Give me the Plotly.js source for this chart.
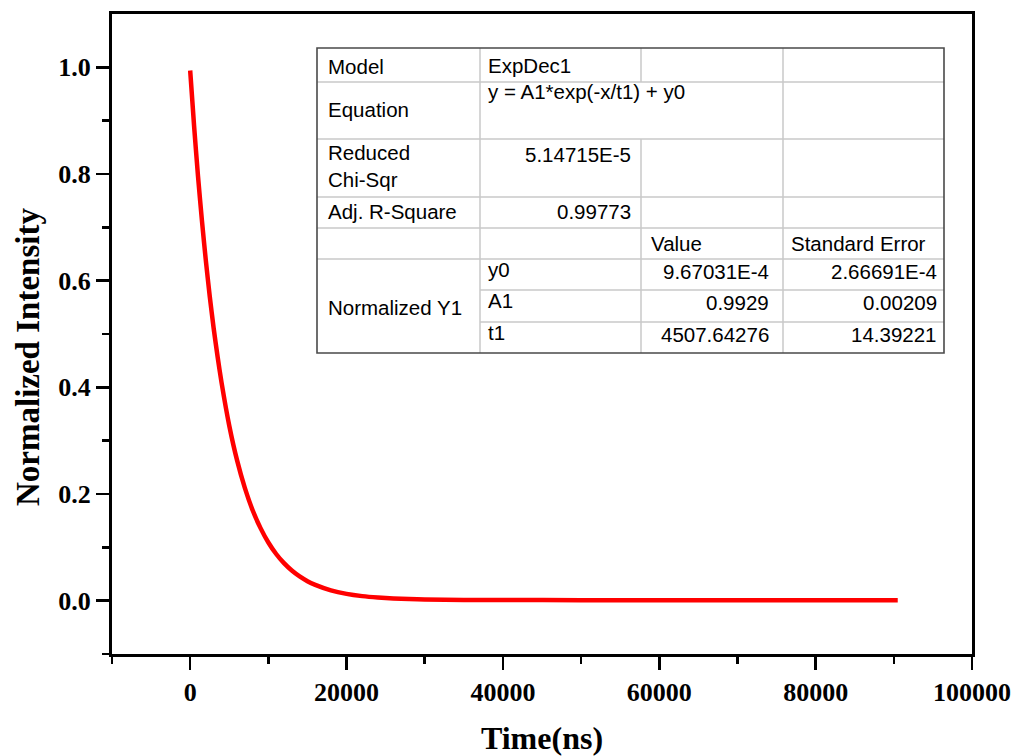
<!DOCTYPE html>
<html>
<head>
<meta charset="utf-8">
<script src="https://cdn.plot.ly/plotly-3.0.1.min.js"></script>
<style>
html,body{margin:0;padding:0;background:#fff;}
#chart{width:1016px;height:756px;}
</style>
</head>
<body>
<div id="chart"></div>
<script>
// ---- data ----
const timeNs = [0, 500, 1000, 1500, 2000, 2500, 3000, 3500, 4000, 5000, 6000, 7000, 8000, 9000, 10000,
  11000, 12000, 13000, 14000, 15000, 16000, 18000, 20000, 22000, 24000, 26000, 28000, 30000,
  35000, 40000, 50000, 60000, 70000, 80000, 90500];
const intensity = [0.994, 0.890, 0.796, 0.713, 0.638, 0.571, 0.511, 0.458, 0.410, 0.328, 0.263, 0.211, 0.169, 0.136, 0.109,
  0.0875, 0.0703, 0.0565, 0.0454, 0.0366, 0.0295, 0.0193, 0.0127, 0.0085, 0.0058, 0.0041, 0.0030, 0.0022,
  0.0014, 0.0011, 0.0010, 0.00097, 0.00097, 0.00097, 0.00097];

const xTickVals = [0, 20000, 40000, 60000, 80000, 100000];
const xTickText = ["0", "20000", "40000", "60000", "80000", "100000"];
const xMinorVals = [-10000, 10000, 30000, 50000, 70000, 90000];
const yTickVals = [0, 0.2, 0.4, 0.6, 0.8, 1.0];
const yTickText = ["0.0", "0.2", "0.4", "0.6", "0.8", "1.0"];
const yMinorVals = [-0.1, 0.1, 0.3, 0.5, 0.7, 0.9];
const xTitle = "Time(ns)";
const yTitle = "Normalized Intensity";

// fit report table
const reportLabels = ["Model", "Equation", "Reduced<br>Chi-Sqr", "Adj. R-Square"];
const reportValues = ["ExpDec1", "y = A1*exp(-x/t1) + y0", "5.14715E-5", "0.99773"];
const paramGroup = "Normalized Y1";
const paramHeader = ["Value", "Standard Error"];
const paramNames = ["y0", "A1", "t1"];
const paramValues = ["9.67031E-4", "0.9929", "4507.64276"];
const paramErrors = ["2.66691E-4", "0.00209", "14.39221"];

// ---- layout helpers (pixel -> paper) ----
const L = 112, R = 972, T = 14, B = 654;
const W = 1016, H = 756;
const px = x => (x - L) / (R - L);
const py = y => (B - y) / (B - T);

const shapes = [];
const ann = [];
const grid = '#c8c8c8';
function hline(x0, x1, y, color, w) {
  shapes.push({type:'line', xref:'paper', yref:'paper', x0:px(x0), x1:px(x1), y0:py(y), y1:py(y),
    line:{color:color, width:w}});
}
function vline(x, y0, y1, color, w) {
  shapes.push({type:'line', xref:'paper', yref:'paper', x0:px(x), x1:px(x), y0:py(y0), y1:py(y1),
    line:{color:color, width:w}});
}
const tf = {family:'Liberation Sans, Arial, sans-serif', size:20.5, color:'#000'};
function text(t, x, y, anchor) {
  ann.push({text:t, xref:'paper', yref:'paper', x:px(x), y:py(y), xanchor:anchor, yanchor:'middle',
    showarrow:false, font:tf, align:anchor === 'right' ? 'right' : 'left'});
}

// table geometry
const cx = [317, 480, 641, 783, 944];
const ry = [48, 82, 139, 197, 228, 259, 290, 322, 353];
shapes.push({type:'rect', xref:'paper', yref:'paper', x0:px(cx[0]), x1:px(cx[4]), y0:py(ry[0]), y1:py(ry[8]),
  fillcolor:'#fff', line:{width:0}, layer:'above'});
[1,2,3,4,5].forEach(i => hline(cx[0], cx[4], ry[i], grid, 1.5));
[6,7].forEach(i => hline(cx[1], cx[4], ry[i], grid, 1.5));
vline(cx[1], ry[0], ry[8], grid, 1.5);
vline(cx[2], ry[0], ry[1], grid, 1.5);
vline(cx[2], ry[2], ry[8], grid, 1.5);
vline(cx[3], ry[0], ry[8], grid, 1.5);
shapes.push({type:'rect', xref:'paper', yref:'paper', x0:px(cx[0]), x1:px(cx[4]), y0:py(ry[0]), y1:py(ry[8]),
  line:{color:'#4a4a4a', width:1.6}});

// table texts
text(reportLabels[0], 326, 66, 'left');
text(reportValues[0], 486, 65, 'left');
text(reportLabels[1], 326, 109, 'left');
text(reportValues[1], 486, 92, 'left');
text(reportLabels[2], 326, 166, 'left');
text(reportValues[2], 633, 154, 'right');
text(reportLabels[3], 326, 212, 'left');
text(reportValues[3], 633, 212, 'right');
text(paramHeader[0], 649, 243, 'left');
text(paramHeader[1], 789, 243, 'left');
text(paramGroup, 326, 307, 'left');
const rowMid = [271, 302, 334];
paramNames.forEach((n, i) => {
  text(n, 486, rowMid[i] - 2, 'left');
  text(paramValues[i], 771, rowMid[i], 'right');
  text(paramErrors[i], 939, rowMid[i], 'right');
});

const serif = 'Liberation Serif, Times New Roman, serif';
const tickFont = {family:serif, size:26, color:'#000', weight:'bold'};
const titleFont = {family:serif, size:32, color:'#000', weight:'bold'};

// y-axis title placed to match the reference position
ann.push({text:yTitle, xref:'paper', yref:'paper', x:px(28), y:py(357), xanchor:'center', yanchor:'middle',
  textangle:-90, showarrow:false, font:{family:serif, size:33, color:'#000', weight:'bold'}});

const trace = {
  x: timeNs, y: intensity, type:'scatter', mode:'lines',
  line:{color:'#ff0000', width:4.5, shape:'spline', smoothing:0.6},
  hoverinfo:'x+y', showlegend:false
};

const layout = {
  width: W, height: H,
  margin:{l:L, r:W-R, t:T, b:H-B, pad:0},
  paper_bgcolor:'#fff', plot_bgcolor:'#fff',
  showlegend:false,
  xaxis:{
    range:[-10000, 100000], autorange:false,
    tickmode:'array', tickvals:xTickVals, ticktext:xTickText,
    ticks:'outside', ticklen:13, tickwidth:2.5, tickcolor:'#000',
    minor:{tickmode:'array', tickvals:xMinorVals, ticks:'outside', ticklen:7, tickwidth:2.5, tickcolor:'#000', showgrid:false},
    showline:true, linecolor:'#000', linewidth:3, mirror:true,
    showgrid:false, zeroline:false,
    tickfont:tickFont,
    title:{text:xTitle, font:titleFont, standoff:22}
  },
  yaxis:{
    range:[-0.1, 1.1], autorange:false,
    tickmode:'array', tickvals:yTickVals, ticktext:yTickText,
    ticks:'outside', ticklen:13, tickwidth:2.5, tickcolor:'#000',
    minor:{tickmode:'array', tickvals:yMinorVals, ticks:'outside', ticklen:7, tickwidth:2.5, tickcolor:'#000', showgrid:false},
    showline:true, linecolor:'#000', linewidth:3, mirror:true,
    showgrid:false, zeroline:false,
    tickfont:tickFont
  },
  shapes: shapes,
  annotations: ann
};

Plotly.newPlot('chart', [trace], layout, {displayModeBar:false, staticPlot:true});
</script>
</body>
</html>
